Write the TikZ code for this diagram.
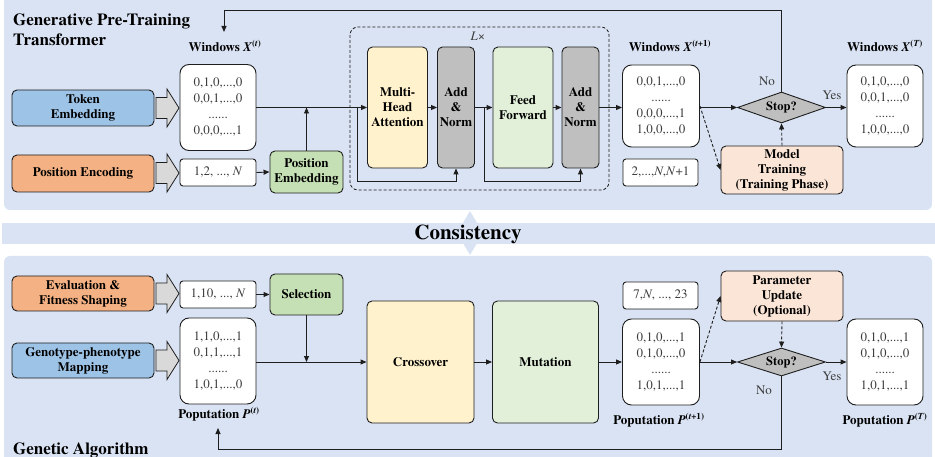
\documentclass[tikz,border=0pt]{standalone}
\usepackage{fontspec}
\setmainfont{texgyretermes}[Extension=.otf, UprightFont=*-regular, BoldFont=*-bold, ItalicFont=*-italic, BoldItalicFont=*-bolditalic]
\usetikzlibrary{arrows.meta,shapes.geometric,calc}
\definecolor{panelc}{HTML}{DAE3F3}
\definecolor{bluec}{HTML}{9DC3E6}
\definecolor{orangec}{HTML}{F4B183}
\definecolor{greenc}{HTML}{C5E0B4}
\definecolor{yellowc}{HTML}{FFF2CC}
\definecolor{lgreenc}{HTML}{E2F0D9}
\definecolor{grayc}{HTML}{BFBFBF}
\definecolor{peachc}{HTML}{FBE5D6}
\definecolor{arrowgray}{HTML}{D9D9D9}
\definecolor{linec}{HTML}{1E1E1E}
\definecolor{txtc}{HTML}{3C3C3C}
\tikzset{
  x=1pt, y=-1pt,
  lbl/.style={font=\bfseries\fontsize{13}{15}\selectfont, text=black, align=center, inner sep=0pt},
  colbox/.style={draw=linec, line width=0.9pt, rounded corners=5pt, align=center, inner sep=0pt,
     font=\bfseries\fontsize{13}{15}\selectfont},
  matbox/.style={draw=linec, line width=0.9pt, rounded corners=9pt, fill=white, align=center, inner sep=0pt,
     font=\fontsize{13}{16}\selectfont, text=txtc},
  smallbox/.style={draw=linec, line width=0.9pt, rounded corners=3pt, fill=white, align=center, inner sep=0pt,
     font=\fontsize{13}{15}\selectfont, text=txtc},
  stopd/.style={diamond, aspect=2.8, draw=linec, line width=0.9pt, fill=grayc, inner sep=0pt,
     font=\bfseries\fontsize{12.5}{14}\selectfont},
  arr/.style={draw=linec, line width=0.9pt, -{Triangle[length=6pt,width=5pt]}},
  darr/.style={draw=linec, line width=0.9pt, dash pattern=on 3pt off 2pt, -{Triangle[length=6pt,width=5pt]}},
  yn/.style={font=\fontsize{13}{15}\selectfont, text=txtc, inner sep=0pt},
  blockarrow/.style={draw=linec, line width=0.8pt, fill=arrowgray},
}
\newcommand{\blockarr}[1]{\path[blockarrow] (156,#1-10.5) -- (167,#1-10.5) -- (167,#1-19) -- (179,#1) -- (167,#1+19) -- (167,#1+10.5) -- (156,#1+10.5) -- cycle;}
\begin{document}
\begin{tikzpicture}
\useasboundingbox (0,0) rectangle (935,457);
% panels
\fill[panelc, rounded corners=6pt] (4,-6) rectangle (932,210);
\fill[panelc] (470,211) -- (483,233) -- (470,255) -- (457,233) -- cycle;
\fill[panelc] (2,223) rectangle (935,244);
\fill[panelc, rounded corners=6pt] (4,256) rectangle (932,465);

\node[font=\bfseries\fontsize{17}{20}\selectfont, align=left, anchor=north west, inner sep=0pt] (title1) at (13,14) {Generative Pre-Training\\Transformer};
\node[font=\bfseries\fontsize{21}{24}\selectfont, inner sep=0pt] (cons) at (468,234) {Consistency};
\node[font=\bfseries\fontsize{17}{20}\selectfont, anchor=base west, inner sep=0pt] (title2) at (13,454) {Genetic Algorithm};

% ================= TOP =================
\node[colbox, fill=bluec, minimum width=142pt, minimum height=36pt] (tok) at (83,108) {Token\\Embedding};
\node[colbox, fill=orangec, minimum width=142pt, minimum height=37pt] (posenc) at (83,173.5) {Position Encoding};
\blockarr{108}
\blockarr{173}
\node[lbl] (wl) at (225,46) {Windows \textit{X}\textsuperscript{(\textit{t})}};
\node[matbox, minimum width=76pt, minimum height=86pt] (xt) at (218,107.5) {0,1,0,...,0\\0,0,1,...,0\\......\\0,0,0,...,1};
\node[smallbox, minimum width=76pt, minimum height=27pt] (p12) at (218,172.5) {1,2, ..., \textit{N}};
\node[colbox, fill=greenc, minimum width=73pt, minimum height=42pt] (posemb) at (306.5,172) {Position\\Embedding};

\draw[dash pattern=on 3pt off 2pt, draw=linec, line width=0.8pt, rounded corners=8pt] (350,27) rectangle (609,190);
\node[font=\fontsize{13}{15}\selectfont, text=txtc, inner sep=0pt] (lx) at (478,36) {\textit{L}×};
\node[colbox, fill=yellowc, minimum width=60pt, minimum height=121pt] (mha) at (397.5,107.5) {Multi-\\Head\\Attention};
\node[colbox, fill=grayc, minimum width=37pt, minimum height=121pt] (add1) at (456,107.5) {Add\\\&\\Norm};
\node[colbox, fill=lgreenc, minimum width=60pt, minimum height=121pt] (ff) at (523,107.5) {Feed\\Forward};
\node[colbox, fill=grayc, minimum width=37pt, minimum height=121pt] (add2) at (580.5,107.5) {Add\\\&\\Norm};

\node[lbl] (wl1) at (670,46) {Windows \textit{X}\textsuperscript{(\textit{t}+1)}};
\node[matbox, minimum width=77pt, minimum height=82pt] (xt1) at (661,106) {0,0,1,...,0\\......\\0,0,0,...,1\\1,0,0,...,0};
\node[smallbox, minimum width=75pt, minimum height=27pt] (p2n) at (660.5,172.5) {2,...,\textit{N},\textit{N}+1};
\node[stopd, minimum width=88pt, minimum height=31pt] (stop1) at (781.5,107.5) {Stop?};
\node[colbox, fill=peachc, minimum width=122pt, minimum height=48pt] (mt) at (782,170) {Model\\Training\\(Training Phase)};
\node[lbl] (wlT) at (885,46) {Windows \textit{X}\textsuperscript{(\textit{T})}};
\node[matbox, minimum width=76pt, minimum height=82pt] (xT) at (885,106) {0,1,0,...,0\\0,0,1,...,0\\......\\1,0,0,...,0};
\node[yn] (no1) at (767,81) {No};
\node[yn] (yes1) at (832,95) {Yes};

% top connectors
\draw[arr] (xt.east) -- (mha.west);
\draw[arr] (p12.east) -- (posemb.west);
\draw[arr] (posemb.north) -- (posemb.north |- xt.east);
\draw[arr] (mha.east) -- (add1.west);
\draw[arr] (add1.east) -- (ff.west);
\draw[arr] (ff.east) -- (add2.west);
\draw[arr] (add2.east) -- (add2.east -| xt1.west);
\coordinate (r1a) at (357,107.5);
\coordinate (r1b) at (357,181);
\draw[arr] (r1a) -- (r1b) -| (add1.south);
\coordinate (r2a) at (484,107.5);
\coordinate (r2b) at (484,181);
\draw[arr] (r2a) -- (r2b) -| (add2.south);
\draw[arr] (stop1.west -| xt1.east) -- (stop1.west);
\draw[arr] (stop1.east) -- (stop1.east -| xT.west);
\coordinate (fbtop) at (224,10);
\coordinate (fbend) at (224,32);
\draw[arr] (stop1.north) |- (fbtop) -- (fbend);
\draw[darr] (mt.north) -- (stop1.south);
\draw[darr] (xt1.east) -- (mt.west);

% ================= BOTTOM =================
\node[colbox, fill=orangec, minimum width=142pt, minimum height=35pt] (eval) at (83,293.5) {Evaluation \&\\Fitness Shaping};
\node[colbox, fill=bluec, minimum width=142pt, minimum height=35pt] (geno) at (83,360.5) {Genotype-phenotype\\Mapping};
\blockarr{293.5}
\blockarr{360.5}
\node[smallbox, minimum width=76pt, minimum height=27pt] (p110) at (218,294.5) {1,10, ..., \textit{N}};
\node[colbox, fill=greenc, minimum width=73pt, minimum height=41pt] (sel) at (306.5,294.5) {Selection};
\node[matbox, minimum width=76pt, minimum height=86pt] (pt) at (218,361) {1,1,0,...,1\\0,1,1,...,1\\......\\1,0,1,...,0};
\node[lbl] (pl) at (219,414) {Poputation \textit{P}\textsuperscript{(\textit{t})}};
\node[colbox, fill=yellowc, minimum width=107pt, minimum height=122pt] (cross) at (420.5,362) {Crossover};
\node[colbox, fill=lgreenc, minimum width=106pt, minimum height=122pt] (mut) at (545.5,362) {Mutation};
\node[smallbox, minimum width=75pt, minimum height=27pt] (p7n) at (660.5,295.5) {7,\textit{N}, ..., 23};
\node[matbox, minimum width=77pt, minimum height=86pt] (pt1) at (661,362) {0,1,0,...,1\\0,1,0,...,0\\......\\1,0,1,...,1};
\node[lbl] (pl1) at (659,420) {Poputation \textit{P}\textsuperscript{(\textit{t}+1)}};
\node[colbox, fill=peachc, minimum width=122pt, minimum height=50pt] (pu) at (782,296) {Parameter\\Update\\(Optional)};
\node[stopd, minimum width=88pt, minimum height=28pt] (stop2) at (781.5,362) {Stop?};
\node[matbox, minimum width=76pt, minimum height=86pt] (pT) at (885,362) {0,1,0,...,1\\0,1,0,...,0\\......\\1,0,1,...,1};
\node[lbl] (plT) at (885,420) {Poputation \textit{P}\textsuperscript{(\textit{T})}};
\node[yn] (yes2) at (832,376) {Yes};
\node[yn] (no2) at (764,390) {No};

% bottom connectors
\draw[arr] (p110.east) -- (sel.west);
\draw[arr] (pt.east |- cross.west) -- (cross.west);
\draw[arr] (sel.south) -- (sel.south |- cross.west);
\draw[arr] (cross.east) -- (mut.west);
\draw[arr] (mut.east) -- (pt1.west);
\draw[arr] (pt1.east) -- (stop2.west);
\draw[arr] (stop2.east) -- (pT.west);
\draw[darr] (pt1.east) -- (pu.west);
\draw[darr] (pu.south) -- (stop2.north);
\coordinate (fb2c) at (218,449);
\coordinate (fb2) at (218,428);
\draw[arr] (stop2.south) |- (fb2c) -- (fb2);
\end{tikzpicture}
\end{document}
